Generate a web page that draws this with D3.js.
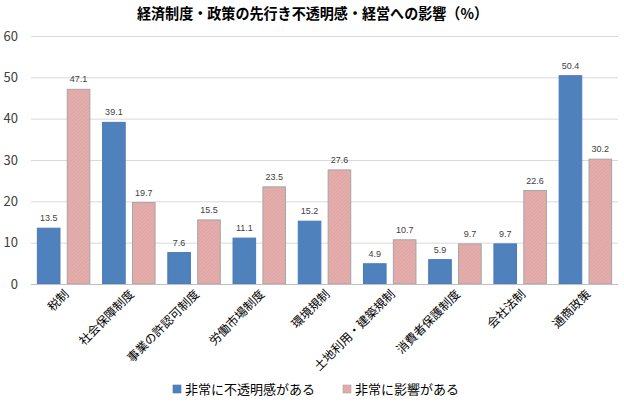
<!DOCTYPE html>
<html>
<head>
<meta charset="utf-8">
<script src="https://cdn.jsdelivr.net/npm/d3@7"></script>
<style>
  html, body { margin: 0; padding: 0; background: #fff; }
  svg { display: block; font-family: "Noto Sans CJK JP", "Noto Sans", sans-serif; }
</style>
</head>
<body>
<svg id="chart" width="624" height="402"></svg>
<script>
// 経済制度・政策の先行き不透明感・経営への影響 (%)
const categories = ["税制", "社会保障制度", "事業の許認可制度", "労働市場制度", "環境規制",
  "土地利用・建築規制", "消費者保護制度", "会社法制", "通商政策"];
const uncertain = [13.5, 39.1, 7.6, 11.1, 15.2, 4.9, 5.9, 9.7, 50.4];
const impact = [47.1, 19.7, 15.5, 23.5, 27.6, 10.7, 9.7, 22.6, 30.2];
const seriesNames = ["非常に不透明感がある", "非常に影響がある"];
const yTicks = [0, 10, 20, 30, 40, 50, 60];

const W = 624, H = 402;
const M = { top: 36, right: 6, bottom: 118, left: 31 };
const svg = d3.select("#chart");

// hatched pink fill
const defs = svg.append("defs");
const pat = defs.append("pattern").attr("id", "hatch")
  .attr("patternUnits", "userSpaceOnUse").attr("width", 2.5).attr("height", 2.5)
  .attr("patternTransform", "rotate(45)");
pat.append("rect").attr("width", 2.5).attr("height", 2.5).attr("fill", "#e5aeac");
pat.append("line").attr("x1", 0).attr("y1", 0).attr("x2", 0).attr("y2", 2.5)
  .attr("stroke", "#d49997").attr("stroke-width", 0.9);

const x = d3.scaleBand().domain(categories).range([M.left, W - M.right]).paddingInner(0.18).paddingOuter(0.09);
const xs = d3.scaleBand().domain([0, 1]).range([0, x.bandwidth()]).paddingInner(0.21);
const y = d3.scaleLinear().domain([0, 60]).range([H - M.bottom, M.top]);

// gridlines
svg.append("g").selectAll("line").data(yTicks.filter((t) => t > 0)).join("line")
  .attr("x1", M.left).attr("x2", W - M.right)
  .attr("y1", (d) => y(d) + 0.5).attr("y2", (d) => y(d) + 0.5)
  .attr("stroke", "#d9d9d9").attr("stroke-width", 1);

// y tick labels
svg.append("g").selectAll("text").data(yTicks).join("text")
  .attr("x", 18).attr("y", (d) => y(d)).attr("dy", "0.35em")
  .attr("text-anchor", "end").attr("font-size", 13).attr("fill", "#404040")
  .text((d) => d);

const rows = categories.map((c, i) => ({ c, vals: [uncertain[i], impact[i]] }));
const g = svg.append("g").selectAll("g").data(rows).join("g")
  .attr("transform", (d) => `translate(${x(d.c)},0)`);

g.selectAll("rect").data((d) => d.vals.map((v, k) => ({ v, k }))).join("rect")
  .attr("x", (d) => xs(d.k) + 0.5).attr("y", (d) => y(d.v))
  .attr("width", xs.bandwidth() - 1).attr("height", (d) => y(0) - y(d.v))
  .attr("fill", (d) => (d.k === 0 ? "#4f81bd" : "url(#hatch)"))
  .attr("stroke", (d) => (d.k === 0 ? "#4a7ab4" : "#a5a5a5"))
  .attr("stroke-width", 1);

g.selectAll("text").data((d) => d.vals.map((v, k) => ({ v, k }))).join("text")
  .attr("x", (d) => xs(d.k) + xs.bandwidth() / 2).attr("y", (d) => y(d.v) - 7)
  .attr("text-anchor", "middle").attr("font-size", 9).attr("fill", "#404040")
  .attr("font-family", "'Liberation Sans', Arial, sans-serif")
  .text((d) => d.v.toFixed(1));

// baseline
svg.append("line").attr("x1", M.left).attr("x2", W - M.right)
  .attr("y1", y(0) + 0.5).attr("y2", y(0) + 0.5)
  .attr("stroke", "#bfbfbf").attr("stroke-width", 1);

// x labels, rotated
svg.append("g").selectAll("text").data(categories).join("text")
  .attr("transform", (d) => `translate(${x(d) + x.bandwidth() / 2 + 6},${y(0) + 11}) rotate(-45)`)
  .attr("text-anchor", "end").attr("font-size", 12).attr("fill", "#000")
  .text((d) => d);

// title
svg.append("text").attr("x", 312.5).attr("y", 19).attr("text-anchor", "middle")
  .attr("font-size", 15).attr("font-weight", "bold").attr("fill", "#000")
  .attr("textLength", 351).attr("lengthAdjust", "spacingAndGlyphs")
  .text("経済制度・政策の先行き不透明感・経営への影響（%）");

// legend
const legendX = [173, 343];
const lg = svg.append("g").selectAll("g").data(seriesNames).join("g")
  .attr("transform", (d, i) => `translate(${legendX[i]},389)`);
lg.append("rect").attr("x", 0).attr("y", -4).attr("width", 8).attr("height", 8)
  .attr("fill", (d, i) => (i === 0 ? "#4f81bd" : "url(#hatch)"))
  .attr("stroke", (d, i) => (i === 0 ? "#4a7ab4" : "#a5a5a5")).attr("stroke-width", 0.6);
lg.append("text").attr("x", 12).attr("y", 0).attr("dy", "0.35em")
  .attr("font-size", 13).attr("fill", "#000").text((d) => d);
</script>
</body>
</html>
